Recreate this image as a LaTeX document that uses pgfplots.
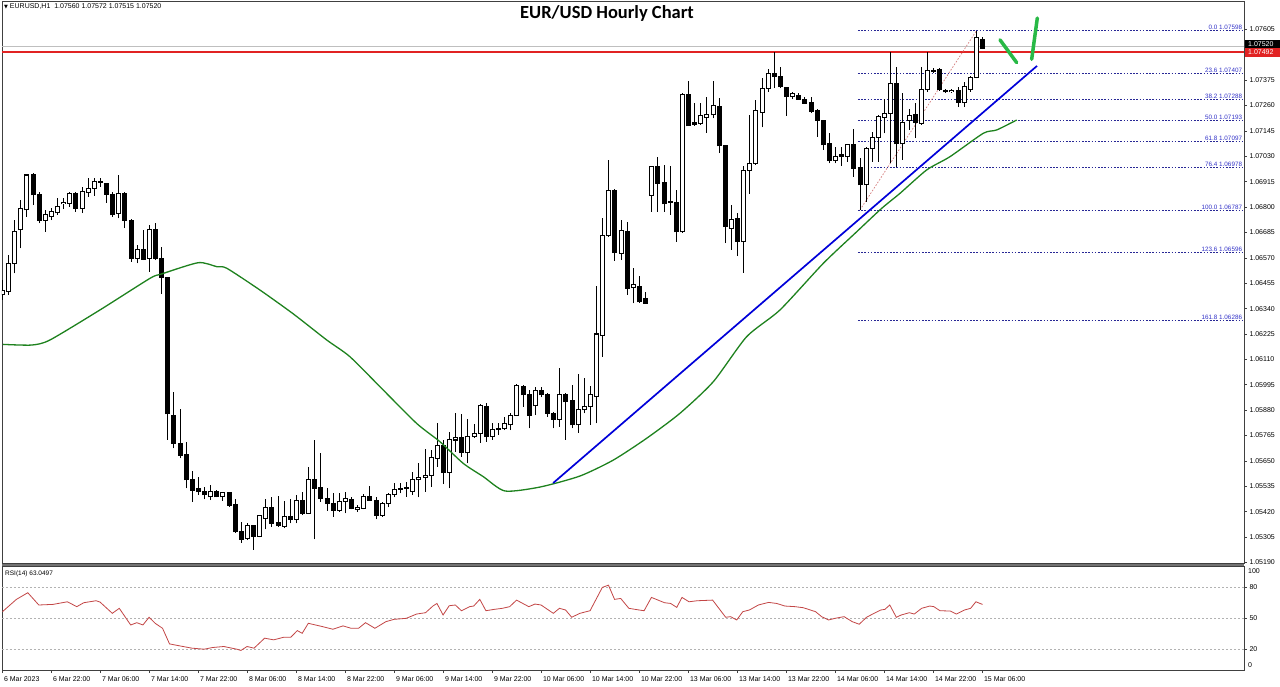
\documentclass[border=0pt]{standalone}
\usepackage{fontspec}
\setmainfont{Liberation Sans}
\newfontfamily\titlefont{Carlito}
\newfontfamily\symfont{DejaVu Sans}
\usepackage{pgfplots}
\usepackage{pgfplotstable}
\pgfplotsset{compat=1.18}

\definecolor{fibline}{RGB}{40,40,150}
\definecolor{fibtext}{RGB}{50,50,200}
\definecolor{rsired}{RGB}{195,70,70}
\definecolor{magreen}{RGB}{30,130,30}
\definecolor{handgreen}{RGB}{40,185,70}
\definecolor{levelred}{RGB}{225,35,35}

% hourly candles, i = bar index (0 = 6 Mar 14:00), open high low close
\pgfplotstableread{
i o h l c
0 1.06402 1.06470 1.06379 1.06424
1 1.06417 1.06583 1.06402 1.06545
2 1.06545 1.06741 1.06500 1.06688
3 1.06696 1.06832 1.06613 1.06794
4 1.06787 1.06945 1.06756 1.06945
5 1.06945 1.06953 1.06809 1.06855
6 1.06855 1.06870 1.06726 1.06741
7 1.06741 1.06787 1.06688 1.06764
8 1.06756 1.06794 1.06741 1.06779
9 1.06774 1.06840 1.06764 1.06802
10 1.06814 1.06840 1.06790 1.06820
11 1.06817 1.06870 1.06802 1.06862
12 1.06862 1.06870 1.06779 1.06794
13 1.06794 1.06892 1.06772 1.06870
14 1.06865 1.06930 1.06847 1.06885
15 1.06885 1.06930 1.06850 1.06915
16 1.06912 1.06930 1.06892 1.06914
17 1.06908 1.06910 1.06820 1.06858
18 1.06858 1.06870 1.06756 1.06764
19 1.06772 1.06945 1.06749 1.06862
20 1.06862 1.06870 1.06704 1.06741
21 1.06741 1.06745 1.06553 1.06568
22 1.06568 1.06628 1.06545 1.06609
23 1.06609 1.06696 1.06560 1.06563
24 1.06568 1.06719 1.06507 1.06699
25 1.06699 1.06726 1.06560 1.06568
26 1.06568 1.06618 1.06406 1.06482
27 1.06482 1.06485 1.05745 1.05863
28 1.05858 1.05964 1.05707 1.05730
29 1.05730 1.05884 1.05662 1.05677
30 1.05680 1.05737 1.05526 1.05564
31 1.05564 1.05606 1.05465 1.05518
32 1.05526 1.05579 1.05496 1.05511
33 1.05511 1.05533 1.05476 1.05496
34 1.05488 1.05541 1.05473 1.05514
35 1.05514 1.05518 1.05485 1.05488
36 1.05488 1.05511 1.05470 1.05508
37 1.05508 1.05511 1.05443 1.05450
38 1.05454 1.05476 1.05325 1.05329
39 1.05329 1.05375 1.05280 1.05295
40 1.05300 1.05370 1.05292 1.05357
41 1.05357 1.05360 1.05247 1.05310
42 1.05310 1.05405 1.05304 1.05401
43 1.05390 1.05476 1.05340 1.05440
44 1.05440 1.05485 1.05352 1.05367
45 1.05370 1.05491 1.05352 1.05357
46 1.05355 1.05470 1.05345 1.05397
47 1.05397 1.05476 1.05367 1.05386
48 1.05386 1.05496 1.05367 1.05470
49 1.05470 1.05511 1.05405 1.05413
50 1.05413 1.05621 1.05410 1.05567
51 1.05564 1.05745 1.05295 1.05526
52 1.05530 1.05687 1.05465 1.05481
53 1.05481 1.05526 1.05425 1.05457
54 1.05457 1.05506 1.05397 1.05428
55 1.05425 1.05506 1.05420 1.05466
56 1.05466 1.05509 1.05413 1.05481
57 1.05476 1.05485 1.05431 1.05436
58 1.05432 1.05450 1.05420 1.05440
59 1.05436 1.05500 1.05431 1.05491
60 1.05491 1.05536 1.05470 1.05473
61 1.05473 1.05488 1.05386 1.05405
62 1.05405 1.05466 1.05397 1.05458
63 1.05458 1.05506 1.05440 1.05500
64 1.05500 1.05549 1.05485 1.05521
65 1.05523 1.05549 1.05503 1.05526
66 1.05526 1.05556 1.05488 1.05530
67 1.05511 1.05601 1.05496 1.05567
68 1.05564 1.05639 1.05485 1.05576
69 1.05576 1.05703 1.05511 1.05586
70 1.05586 1.05700 1.05533 1.05666
71 1.05662 1.05820 1.05624 1.05718
72 1.05718 1.05745 1.05545 1.05597
73 1.05597 1.05782 1.05526 1.05748
74 1.05745 1.05869 1.05692 1.05757
75 1.05757 1.05863 1.05669 1.05687
76 1.05687 1.05839 1.05639 1.05763
77 1.05760 1.05817 1.05753 1.05775
78 1.05775 1.05908 1.05733 1.05903
79 1.05896 1.05914 1.05737 1.05760
80 1.05763 1.05820 1.05745 1.05793
81 1.05793 1.05820 1.05768 1.05795
82 1.05798 1.05850 1.05790 1.05820
83 1.05813 1.05866 1.05790 1.05858
84 1.05858 1.05999 1.05853 1.05994
85 1.05989 1.05994 1.05896 1.05949
86 1.05953 1.05971 1.05798 1.05858
87 1.05899 1.05986 1.05858 1.05971
88 1.05971 1.05984 1.05938 1.05949
89 1.05953 1.05956 1.05850 1.05866
90 1.05866 1.05873 1.05798 1.05839
91 1.05839 1.06070 1.05805 1.05953
92 1.05953 1.05956 1.05745 1.05918
93 1.05923 1.05994 1.05798 1.05813
94 1.05813 1.06044 1.05778 1.05884
95 1.05881 1.06024 1.05866 1.05896
96 1.05896 1.05989 1.05813 1.05949
97 1.05944 1.06442 1.05820 1.06225
98 1.06220 1.06749 1.06122 1.06669
99 1.06673 1.07013 1.06666 1.06877
100 1.06877 1.06880 1.06557 1.06593
101 1.06591 1.06741 1.06560 1.06692
102 1.06688 1.06734 1.06402 1.06432
103 1.06435 1.06523 1.06364 1.06447
104 1.06442 1.06488 1.06367 1.06371
105 1.06385 1.06417 1.06364 1.06364
106 1.06852 1.06983 1.06779 1.06983
107 1.06983 1.07028 1.06779 1.06908
108 1.06910 1.06991 1.06779 1.06814
109 1.06822 1.06986 1.06764 1.06824
110 1.06822 1.06877 1.06643 1.06688
111 1.06688 1.07318 1.06684 1.07308
112 1.07308 1.07372 1.07167 1.07167
113 1.07182 1.07270 1.07167 1.07176
114 1.07179 1.07270 1.07172 1.07213
115 1.07205 1.07300 1.07137 1.07217
116 1.07217 1.07372 1.07202 1.07258
117 1.07255 1.07293 1.07044 1.07077
118 1.07078 1.07080 1.06636 1.06711
119 1.06704 1.06809 1.06606 1.06745
120 1.06746 1.06772 1.06578 1.06643
121 1.06643 1.06986 1.06503 1.06965
122 1.06965 1.07217 1.06859 1.06998
123 1.06998 1.07285 1.06991 1.07235
124 1.07229 1.07383 1.07161 1.07338
125 1.07338 1.07424 1.07323 1.07403
126 1.07403 1.07500 1.07338 1.07391
127 1.07391 1.07436 1.07338 1.07345
128 1.07343 1.07345 1.07213 1.07300
129 1.07300 1.07323 1.07288 1.07312
130 1.07303 1.07315 1.07285 1.07288
131 1.07285 1.07300 1.07267 1.07270
132 1.07273 1.07300 1.07225 1.07232
133 1.07235 1.07243 1.07119 1.07194
134 1.07191 1.07194 1.07059 1.07081
135 1.07089 1.07134 1.06998 1.07010
136 1.07010 1.07073 1.06998 1.07031
137 1.07040 1.07073 1.06986 1.07031
138 1.07028 1.07081 1.07005 1.07081
139 1.07081 1.07154 1.06938 1.06976
140 1.06980 1.07021 1.06787 1.06900
141 1.06900 1.07073 1.06824 1.07066
142 1.07066 1.07141 1.07005 1.07116
143 1.07116 1.07217 1.07005 1.07209
144 1.07207 1.07288 1.07134 1.07225
145 1.07225 1.07500 1.06998 1.07361
146 1.07361 1.07436 1.06983 1.07086
147 1.07086 1.07318 1.07013 1.07182
148 1.07194 1.07243 1.07149 1.07213
149 1.07217 1.07270 1.07112 1.07182
150 1.07179 1.07436 1.07172 1.07333
151 1.07330 1.07500 1.07323 1.07418
152 1.07418 1.07429 1.07409 1.07416
153 1.07424 1.07429 1.07327 1.07330
154 1.07328 1.07333 1.07318 1.07322
155 1.07322 1.07333 1.07316 1.07327
156 1.07327 1.07345 1.07252 1.07273
157 1.07273 1.07368 1.07252 1.07345
158 1.07333 1.07394 1.07323 1.07388
159 1.07388 1.07598 1.07383 1.07569
160 1.07560 1.07572 1.07515 1.07520
}\candles

\pgfplotsset{
  mt4/.style={
    scale only axis, width=1242pt,
    xmin=-0.08, xmax=202.69,
    enlargelimits=false,
    axis line style={draw=black!75, line width=0.8pt},
    tick align=outside, major tick length=3pt,
    tick style={black!75, line width=0.6pt},
    ytick pos=right, yticklabel pos=right,
    yticklabel style={anchor=west, xshift=-1pt, font=\fontsize{7}{8}\selectfont},
  },
  bar part/.style={draw=none, mark=none, forget plot,
    error bars/.cd, y dir=plus, y explicit, error mark=none,
    error bar style={#1}},
}

\begin{document}
\begin{tikzpicture}[font=\fontsize{7}{8}\selectfont]
\useasboundingbox (0,0) rectangle (1280pt,686pt);
\fill[white] (0,0) rectangle (1280pt,686pt);
\fill[black!55] (2pt,120pt) rectangle (1244pt,123pt);

\begin{axis}[mt4, at={(2pt,123pt)}, anchor=south west, height=562pt,
  ymin=1.05188, ymax=1.07733, xtick=\empty,
  ytick={1.05190,1.05305,1.05420,1.05535,1.05650,1.05765,1.05880,1.05995,1.06110,1.06225,1.06340,1.06455,1.06570,1.06685,1.06800,1.06915,1.07030,1.07145,1.07260,1.07375,1.07605},
  yticklabels={1.05190,1.05305,1.05420,1.05535,1.05650,1.05765,1.05880,1.05995,1.06110,1.06225,1.06340,1.06455,1.06570,1.06685,1.06800,1.06915,1.07030,1.07145,1.07260,1.07375,1.07605},
]
% current bid line and resistance line
\addplot[black!25, line width=0.8pt] coordinates {(-0.08,1.07526) (202.69,1.07526)};
\addplot[levelred, line width=2pt] coordinates {(-0.08,1.07500) (202.69,1.07500)};

% fibonacci levels
\foreach \lv/\tx in {1.07598/0.0 1.07598, 1.07407/23.6 1.07407, 1.07288/38.2 1.07288,
  1.07193/50.0 1.07193, 1.07097/61.8 1.07097, 1.06978/76.4 1.06978,
  1.06787/100.0 1.06787, 1.06596/123.6 1.06596, 1.06286/161.8 1.06286} {
  \edef\tmp{\noexpand\addplot[fibline, line width=0.7pt, dash pattern=on 1.6pt off 1.6pt] coordinates {(139.67,\lv) (202.5,\lv)};
    \noexpand\node[anchor=south east, inner sep=0.6pt, text=fibtext, font=\noexpand\fontsize{6.3}{7}\noexpand\selectfont] at (axis cs:202.5,\lv) {\tx};}
  \tmp
}
\addplot[rsired!70, line width=0.7pt, dash pattern=on 1.6pt off 1.6pt] coordinates {(140,1.06787) (159,1.07598)};

% candles: wicks, bodies, white fill of rising bars
\addplot[bar part={draw=black, line width=1pt}] table[x=i, y=l, y error plus expr={\thisrow{h}-\thisrow{l}}] {\candles};
\addplot[bar part={draw=black, line width=5pt}]
  table[x=i, y expr={min(\thisrow{o},\thisrow{c})-0.000023}, y error plus expr={abs(\thisrow{c}-\thisrow{o})+0.000046}] {\candles};
\addplot[bar part={draw=white, line width=3pt}]
  table[x=i, y expr={\thisrow{o}+0.000023}, y error plus expr={max(\thisrow{c}-\thisrow{o}-0.000046,0)}] {\candles};

% moving average
\addplot[magreen, line width=1.3pt, smooth, tension=0.4] coordinates {
(0.08,1.06178) (4.77,1.06175) (7.76,1.06198) (15.92,1.06334) (24.08,1.06477) (25.99,1.06497)
(31.97,1.06548) (34.97,1.06530) (36.60,1.06523) (42.04,1.06424) (47.48,1.06316) (52.93,1.06198)
(56.73,1.06122) (62.17,1.05971) (67.62,1.05820) (71.43,1.05737) (75.23,1.05639) (78.50,1.05579)
(82.04,1.05514) (87.76,1.05532) (94.29,1.05582) (99.72,1.05654) (105.18,1.05753) (110.61,1.05866)
(116.05,1.06009) (121.50,1.06213) (126.94,1.06334) (134.01,1.06545) (139.46,1.06688) (143.54,1.06794)
(146.53,1.06862) (150.89,1.06968) (154.69,1.07028) (160.13,1.07134) (162.32,1.07149) (165.58,1.07194)};

% trend line and hand drawn strokes
\addplot[blue!85!black, line width=1.7pt] coordinates {(89.9,1.05550) (168.9,1.07439)};
\addplot[handgreen, line width=3.5pt, line cap=round] coordinates {(162.86,1.07557) (165.58,1.07454)};
\addplot[handgreen, line width=3.5pt, line cap=round] coordinates {(168.03,1.07469) (168.95,1.07656)};
\end{axis}

% price labels on the right scale
\fill[black] (1245pt,637pt) rectangle (1280pt,646pt);
\node[anchor=west, text=white, inner sep=1pt] at (1247pt,641.5pt) {1.07520};
\fill[levelred] (1245pt,629pt) rectangle (1280pt,638pt);
\node[anchor=west, text=white, inner sep=1pt] at (1247pt,633.5pt) {1.07492};

\begin{axis}[mt4, at={(2pt,16pt)}, anchor=south west, height=104pt,
  ymin=0, ymax=100, ytick={20,50,80}, yticklabels={20,50,80},
  xtick={0,8,16,24,32,40,48,56,64,72,80,88,96,104,112,120,128,136,144,152,160},
  xticklabels={6 Mar 2023,6 Mar 22:00,7 Mar 06:00,7 Mar 14:00,7 Mar 22:00,8 Mar 06:00,8 Mar 14:00,8 Mar 22:00,9 Mar 06:00,9 Mar 14:00,9 Mar 22:00,10 Mar 06:00,10 Mar 14:00,10 Mar 22:00,13 Mar 06:00,13 Mar 14:00,13 Mar 22:00,14 Mar 06:00,14 Mar 14:00,14 Mar 22:00,15 Mar 06:00},
  xtick pos=bottom,
  xticklabel style={anchor=north west, xshift=-2pt, font=\fontsize{7}{8}\selectfont},
]
\addplot[black!30, dash pattern=on 2pt off 2pt] coordinates {(-0.08,20) (202.69,20)};
\addplot[black!30, dash pattern=on 2pt off 2pt] coordinates {(-0.08,50) (202.69,50)};
\addplot[black!30, dash pattern=on 2pt off 2pt] coordinates {(-0.08,80) (202.69,80)};
\addplot[rsired, line width=0.8pt] coordinates {
(0,56.1) (2.27,67.9) (4.13,74.3) (5.93,62.5) (8.27,63.1) (10.6,65.6) (12.13,60.9) (13.27,64.7)
(15.27,66.6) (15.93,65.3) (17.93,54.5) (19.07,59.3) (20.93,43.3) (21.93,45.5) (22.93,43.3) (23.93,50.7)
(24.93,44.9) (26.13,40.1) (27.27,25.1) (28.93,23.2) (30.93,21.0) (32.93,20.0) (34.27,21.6) (36.13,22.6)
(38.27,20.0) (38.93,18.8) (39.93,22.6) (41.07,21.0) (42.8,30.6) (44.27,29.0) (45.93,31.5) (47.07,31.5)
(48.13,37.9) (48.93,35.3) (49.93,44.9) (52.27,41.7) (53.93,39.2) (55.6,42.4) (56.93,40.1) (58.13,40.1)
(59.27,45.5) (60.8,40.1) (62.6,46.5) (63.93,48.7) (65.93,49.7) (67.6,53.8) (69.07,55.1) (70.27,61.5)
(70.93,64.0) (71.93,52.9) (72.93,61.8) (73.93,62.5) (74.93,57.0) (76.27,60.9) (76.93,61.5) (77.93,67.9)
(78.93,57.0) (80.27,58.3) (81.6,59.3) (82.8,60.9) (83.93,67.2) (85.93,60.9) (86.93,63.4) (87.93,62.5)
(89.93,54.5) (90.93,59.3) (91.93,57.7) (92.93,50.7) (94.27,54.5) (95.93,57.0) (97.93,79.4) (98.93,81.6)
(99.93,67.9) (100.93,68.8) (102.27,59.3) (103.93,57.7) (104.75,57.0) (105.95,69.8) (108.08,64.7) (109.08,64.0)
(110.08,60.2) (110.94,69.8) (112.08,65.6) (113.41,66.6) (115.94,67.2) (118.07,50.7) (118.87,51.3) (119.87,48.1)
(120.87,56.1) (121.94,57.7) (123.41,62.5) (125.07,65.0) (126.4,64.0) (127.74,61.5) (129.4,60.9) (130.74,59.9)
(132.74,56.1) (133.73,51.3) (134.87,48.1) (135.93,49.7) (137.4,51.3) (138.73,46.5) (139.87,44.0) (141.07,50.7)
(142.07,53.8) (143.4,57.7) (144.06,58.3) (144.86,62.5) (145.93,50.7) (146.73,52.9) (148.06,55.1) (148.86,53.8)
(150.06,59.3) (151.39,61.5) (152.06,60.9) (153.06,57.0) (154.73,56.7) (155.73,53.8) (157.06,57.7) (158.06,59.3)
(158.92,65.6) (160,63.05)};
\end{axis}
\node[anchor=north west, inner sep=1pt] at (1247pt,119pt) {100};
\node[anchor=south west, inner sep=1pt] at (1247pt,17pt) {0};
\node[anchor=west, inner sep=0pt, font=\fontsize{6.5}{7}\selectfont] at (5pt,112pt) {RSI(14) 63.0497};

% header and title
\node[anchor=west, inner sep=0pt, font=\fontsize{7}{8}\selectfont] at (4pt,679pt) {{\symfont\fontsize{5}{6}\selectfont ▼} EURUSD,H1\ \ 1.07560 1.07572 1.07515 1.07520};
\node[font=\titlefont\bfseries\fontsize{18.5}{20}\selectfont] at (607pt,673pt) {EUR/USD Hourly Chart};
\end{tikzpicture}
\end{document}
